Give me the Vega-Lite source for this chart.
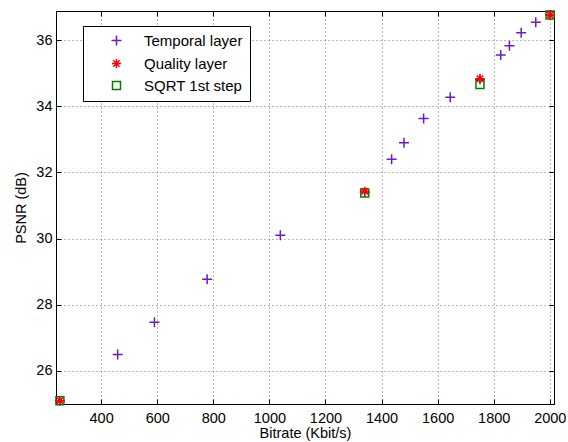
{
  "$schema": "https://vega.github.io/schema/vega-lite/v6.json",
  "width": 498,
  "height": 393,
  "autosize": {"type": "none"},
  "padding": {"left": 56, "top": 11, "right": 14, "bottom": 38},
  "background": "white",
  "config": {
    "font": "Liberation Sans",
    "view": {"stroke": "black", "strokeWidth": 1},
    "axis": {
      "domainColor": "black",
      "tickColor": "black",
      "labelColor": "black",
      "titleColor": "black",
      "labelFont": "Liberation Sans",
      "titleFont": "Liberation Sans",
      "labelFontSize": 14.5,
      "titleFontSize": 14.5,
      "titleFontWeight": "normal",
      "tickSize": -5,
      "gridColor": "#333",
      "gridDash": [1, 3],
      "gridOpacity": 0.7
    }
  },
  "datasets": {
    "pts": [
      {"series": "Temporal layer", "bitrate": 253, "psnr": 25.1},
      {"series": "Temporal layer", "bitrate": 459, "psnr": 26.5},
      {"series": "Temporal layer", "bitrate": 590, "psnr": 27.47},
      {"series": "Temporal layer", "bitrate": 778, "psnr": 28.77},
      {"series": "Temporal layer", "bitrate": 1039, "psnr": 30.1},
      {"series": "Temporal layer", "bitrate": 1340, "psnr": 31.4},
      {"series": "Temporal layer", "bitrate": 1436, "psnr": 32.4},
      {"series": "Temporal layer", "bitrate": 1480, "psnr": 32.9},
      {"series": "Temporal layer", "bitrate": 1550, "psnr": 33.63},
      {"series": "Temporal layer", "bitrate": 1645, "psnr": 34.27},
      {"series": "Temporal layer", "bitrate": 1751, "psnr": 34.82},
      {"series": "Temporal layer", "bitrate": 1825, "psnr": 35.55},
      {"series": "Temporal layer", "bitrate": 1856, "psnr": 35.83},
      {"series": "Temporal layer", "bitrate": 1898, "psnr": 36.22},
      {"series": "Temporal layer", "bitrate": 1950, "psnr": 36.54},
      {"series": "Temporal layer", "bitrate": 2001, "psnr": 36.76},
      {"series": "Quality layer", "bitrate": 253, "psnr": 25.1},
      {"series": "Quality layer", "bitrate": 1340, "psnr": 31.43},
      {"series": "Quality layer", "bitrate": 1751, "psnr": 34.83},
      {"series": "Quality layer", "bitrate": 2001, "psnr": 36.76},
      {"series": "SQRT 1st step", "bitrate": 253, "psnr": 25.1},
      {"series": "SQRT 1st step", "bitrate": 1340, "psnr": 31.38},
      {"series": "SQRT 1st step", "bitrate": 1751, "psnr": 34.66},
      {"series": "SQRT 1st step", "bitrate": 2001, "psnr": 36.76}
    ]
  },
  "data": {"name": "pts"},
  "layer": [
    {
      "mark": {"type": "point", "filled": false, "strokeWidth": 1.5, "opacity": 1},
      "encoding": {
        "x": {
          "field": "bitrate", "type": "quantitative",
          "scale": {"domain": [239, 2015], "nice": false, "zero": false},
          "axis": {
            "title": "Bitrate (Kbit/s)",
            "format": "d",
            "values": [400, 600, 800, 1000, 1200, 1400, 1600, 1800, 2000],
            "grid": true,
            "labelPadding": 12,
            "titlePadding": 2
          }
        },
        "y": {
          "field": "psnr", "type": "quantitative",
          "scale": {"domain": [25, 36.88], "nice": false, "zero": false},
          "axis": {
            "title": "PSNR (dB)",
            "values": [26, 28, 30, 32, 34, 36],
            "grid": true,
            "labelPadding": 9,
            "titlePadding": 7
          }
        },
        "color": {
          "field": "series", "type": "nominal",
          "scale": {
            "domain": ["Temporal layer", "Quality layer", "SQRT 1st step"],
            "range": ["#6a1cc4", "#ff0000", "#008000"]
          },
          "legend": {
            "title": null,
            "orient": "none",
            "legendX": 27,
            "legendY": 15,
            "fillColor": "white",
            "strokeColor": "black",
            "padding": 7,
            "labelFont": "Liberation Sans",
            "labelFontSize": 15,
            "labelColor": "black",
            "symbolOffset": 19,
            "labelOffset": 20,
            "rowPadding": 6,
            "symbolStrokeWidth": 1.5,
            "symbolSize": 80
          }
        },
        "shape": {
          "field": "series", "type": "nominal",
          "scale": {
            "domain": ["Temporal layer", "Quality layer", "SQRT 1st step"],
            "range": [
              "M-1,0L1,0M0,-1L0,1",
              "M-1,0L1,0M0,-1L0,1M-0.7,-0.7L0.7,0.7M-0.7,0.7L0.7,-0.7",
              "square"
            ]
          },
          "legend": null
        },
        "size": {
          "field": "series", "type": "nominal",
          "scale": {
            "domain": ["Temporal layer", "Quality layer", "SQRT 1st step"],
            "range": [100, 64, 60]
          },
          "legend": null
        },
        "order": {"field": "series", "sort": "descending"}
      }
    },
    {
      "mark": {"type": "point", "opacity": 0},
      "encoding": {
        "x": {
          "field": "bitrate", "type": "quantitative",
          "axis": {"orient": "top", "title": null, "labels": false, "grid": false,
                   "values": [400, 600, 800, 1000, 1200, 1400, 1600, 1800, 2000]}
        },
        "y": {
          "field": "psnr", "type": "quantitative",
          "axis": {"orient": "right", "title": null, "labels": false, "grid": false,
                   "values": [26, 28, 30, 32, 34, 36]}
        }
      }
    }
  ],
  "resolve": {"axis": {"x": "independent", "y": "independent"}}
}
